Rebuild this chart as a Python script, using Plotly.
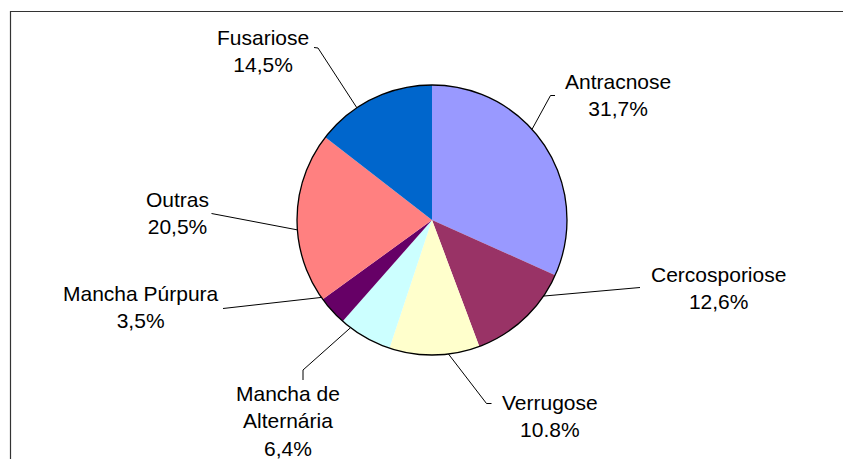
# %% Importing libraries
import math
import plotly.graph_objects as go


# %% Data
diseases = ["Antracnose", "Cercosporiose", "Verrugose", "Mancha de Alternária",
            "Mancha Púrpura", "Outras", "Fusariose"]
shares = [31.7, 12.6, 10.8, 6.4, 3.5, 20.5, 14.5]
share_labels = ["31,7%", "12,6%", "10.8%", "6,4%", "3,5%", "20,5%", "14,5%"]
label_text = ["Antracnose", "Cercosporiose", "Verrugose", "Mancha de<br>Alternária",
              "Mancha Púrpura", "Outras", "Fusariose"]


# %% Styling / layout (pixels)
W, H = 843, 459
colors = ["#9999FF", "#993366", "#FFFFCC", "#CCFFFF", "#660066", "#FF8080", "#0066CC"]
cx, cy, r = 432, 220, 135

# label centres
label_pos = [(618, 95), (718, 288), (550, 416), (288, 421),
             (141, 307), (177, 213), (263, 51)]
# leader lines: angle on pie edge (deg, clockwise from 12 o'clock), then the points towards the label
leaders = [
    (47.8, [(550.5, 95.5), (555, 95.5)]),
    (124.3, [(640, 287.5)]),
    (173.0, [(486.5, 403.5), (491.5, 403.5)]),
    (217.1, [(303, 370), (303, 380)]),
    (235.0, [(223, 308.5)]),
    (265.8, [(211.5, 213.5)]),
    (326.2, [(318, 48), (314, 47.5)]),
]


def px(x):
    return x / W


def py(y):
    return 1 - y / H


# %% Pie
fig = go.Figure(go.Pie(
    labels=diseases,
    values=shares,
    sort=False,
    direction="clockwise",
    rotation=0,
    marker=dict(colors=colors, line=dict(width=0)),
    textinfo="none",
    hoverinfo="label+percent",
    showlegend=False,
    domain=dict(x=[px(cx - r), px(cx + r)], y=[py(cy + r), py(cy - r)]),
))

shapes = []
# outline of the pie
shapes.append(dict(type="circle", xref="paper", yref="paper",
                   x0=px(cx - r), x1=px(cx + r), y0=py(cy + r), y1=py(cy - r),
                   line=dict(color="black", width=1.3)))

# chart frame: only its left and top edges fall inside the picture
shapes.append(dict(type="path", xref="paper", yref="paper",
                   path=f"M {px(10.5)},{py(H)} L {px(10.5)},{py(11.5)} L {px(W)},{py(11.5)}",
                   line=dict(color="#333333", width=1.2)))

for ang, pts in leaders:
    a = math.radians(ang)
    prev = (cx + r * math.sin(a), cy - r * math.cos(a))
    for p in pts:
        shapes.append(dict(type="line", xref="paper", yref="paper",
                           x0=px(prev[0]), y0=py(prev[1]), x1=px(p[0]), y1=py(p[1]),
                           line=dict(color="black", width=1)))
        prev = p

annotations = []
for name, pct, (lx, ly) in zip(label_text, share_labels, label_pos):
    annotations.append(dict(
        text=f"{name}<br>{pct}", x=px(lx), y=py(ly), xref="paper", yref="paper",
        xanchor="center", yanchor="middle", showarrow=False, align="center",
        font=dict(family="Liberation Sans, Arial, sans-serif", size=21, color="black"),
    ))

fig.update_layout(
    width=W, height=H,
    margin=dict(l=0, r=0, t=0, b=0),
    paper_bgcolor="white",
    plot_bgcolor="white",
    shapes=shapes,
    annotations=annotations,
)

fig.write_html(
    "out.html",
    config={"displayModeBar": False},
    post_script=(
        "document.body.style.margin='0';"
        "document.body.style.overflow='hidden';"
        "document.documentElement.style.overflow='hidden';"
    ),
)
